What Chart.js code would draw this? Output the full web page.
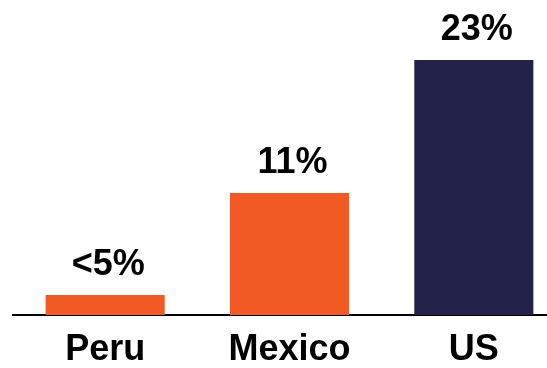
<!DOCTYPE html>
<html>
<head>
<meta charset="utf-8">
<script src="https://cdn.jsdelivr.net/npm/chart.js@4"></script>
<style>
  html, body { margin: 0; padding: 0; background: #fff; overflow: hidden; }
  #chart { display: block; }
</style>
</head>
<body>
<canvas id="chart" width="566" height="368"></canvas>
<script>
// Share by country
const categories = ['Peru', 'Mexico', 'US'];
const shareValues = [1.8, 11, 23];
const valueLabels = ['<5%', '11%', '23%'];
const barColors = ['#F15A24', '#F15A24', '#23234A'];

const FONT = '"Liberation Sans", Arial, Helvetica, sans-serif';

// Writes the value text above each bar
const valueLabelPlugin = {
  id: 'valueLabels',
  afterDatasetsDraw(chart) {
    const ctx = chart.ctx;
    const meta = chart.getDatasetMeta(0);
    ctx.save();
    ctx.font = 'bold 36px ' + FONT;
    ctx.fillStyle = '#000';
    ctx.textAlign = 'center';
    ctx.textBaseline = 'alphabetic';
    meta.data.forEach((bar, i) => {
      ctx.fillText(valueLabels[i], bar.x + 3, bar.y - 20);
    });
    ctx.restore();
  }
};

new Chart(document.getElementById('chart').getContext('2d'), {
  type: 'bar',
  data: {
    labels: categories,
    datasets: [{
      data: shareValues,
      backgroundColor: barColors,
      borderWidth: 0,
      categoryPercentage: 1,
      barPercentage: 0.646,
    }],
  },
  options: {
    responsive: false,
    animation: false,
    devicePixelRatio: 1,
    layout: { padding: { left: 13, right: 0, top: 0, bottom: 0 } },
    plugins: {
      legend: { display: false },
      tooltip: { enabled: false },
    },
    scales: {
      x: {
        grid: { display: false, drawTicks: false },
        border: { display: true, color: '#000', width: 2 },
        ticks: {
          color: '#000',
          font: { family: FONT, size: 36, weight: 'bold' },
          padding: 13,
          maxRotation: 0,
        },
        afterFit(scale) { scale.height = 53; },
      },
      y: {
        display: false,
        min: 0,
        max: 28.41,
      },
    },
  },
  plugins: [valueLabelPlugin],
});
</script>
</body>
</html>
